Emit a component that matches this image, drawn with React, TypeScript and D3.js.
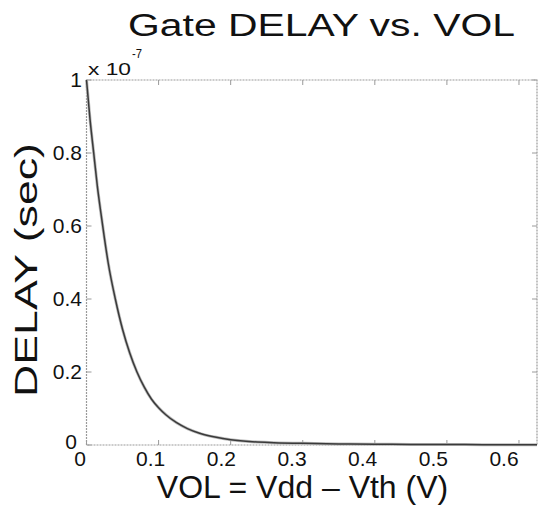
import React from "react";
import * as d3 from "d3";

// VOL (V) and gate delay (x 1e-7 s)
const volValues = [0, 0.005, 0.01, 0.015, 0.02, 0.025, 0.03, 0.04, 0.05, 0.06, 0.07, 0.08, 0.09, 0.1, 0.11, 0.125, 0.14, 0.157, 0.18, 0.2, 0.23, 0.26, 0.3, 0.35, 0.4, 0.45, 0.5, 0.55, 0.6, 0.625];
const delayValues = [1.0, 0.89, 0.8, 0.71, 0.635, 0.565, 0.5, 0.4, 0.317, 0.252, 0.2, 0.159, 0.126, 0.102, 0.083, 0.061, 0.045, 0.032, 0.021, 0.0146, 0.009, 0.0065, 0.0045, 0.003, 0.0022, 0.0017, 0.0013, 0.001, 0.0008, 0.0007];
const xTicks = [0, 0.1, 0.2, 0.3, 0.4, 0.5, 0.6];
const yTicks = [0, 0.2, 0.4, 0.6, 0.8, 1];

const W = 539;
const H = 508;
const left = 86.5, right = 537, top = 80, bottom = 445;
const font = "'Liberation Sans', Arial, Helvetica, sans-serif";

export default function App() {
  const x = d3.scaleLinear().domain([0, 0.625]).range([left, right]);
  const y = d3.scaleLinear().domain([0, 1]).range([bottom, top]);
  // the scan squeezes the tick labels slightly relative to the tick marks
  const xLabel = d3.scaleLinear().domain([0, 0.6]).range([80, 504]);

  const pts = volValues.map((v, i) => [v, delayValues[i]] as [number, number]);
  const line = d3
    .line<[number, number]>()
    .x((d) => x(d[0]))
    .y((d) => y(d[1]))
    .curve(d3.curveMonotoneX);

  const frame = "#9a9a9a";

  return (
    <svg width={W} height={H} style={{ position: "absolute", left: 0, top: 0, background: "#fff" }} fontFamily={font}>
      <rect x={0} y={0} width={W} height={H} fill="#fff" />
      {/* title */}
      <text x={321.5} y={36} fontSize={31} textAnchor="middle" textLength={387} lengthAdjust="spacingAndGlyphs" fill="#111">
        Gate DELAY vs. VOL
      </text>

      {/* frame */}
      <rect x={left} y={top} width={right - left} height={bottom - top} fill="none" stroke={frame} strokeWidth={1.2} strokeDasharray="2,1" />

      {/* x ticks */}
      {xTicks.map((t) => (
        <g key={"x" + t}>
          <line x1={x(t)} x2={x(t)} y1={bottom} y2={bottom - 5} stroke={frame} />
          <line x1={x(t)} x2={x(t)} y1={top} y2={top + 5} stroke={frame} />
          <text x={xLabel(t)} y={466} fontSize={21} textAnchor="middle" fill="#111">
            {t === 0 ? "0" : d3.format(".1f")(t)}
          </text>
        </g>
      ))}

      {/* y ticks */}
      {yTicks.map((t) => (
        <g key={"y" + t}>
          <line x1={left} x2={left + 5} y1={y(t)} y2={y(t)} stroke={frame} />
          <line x1={right} x2={right - 5} y1={y(t)} y2={y(t)} stroke={frame} />
          <text x={t === 0 ? 77 : 82} y={y(t) + (t === 0 ? 4 : 7)} fontSize={21} textAnchor="end" fill="#111">
            {t === 0 || t === 1 ? String(t) : d3.format(".1f")(t)}
          </text>
        </g>
      ))}

      {/* exponent marker */}
      <text x={88} y={75} fontSize={17} textLength={43} lengthAdjust="spacingAndGlyphs" fill="#111">x 10</text>
      <text x={132} y={58} fontSize={13} textLength={10} lengthAdjust="spacingAndGlyphs" fill="#111">-7</text>

      {/* curve */}
      <path d={line(pts) || ""} fill="none" stroke="#bbb" strokeWidth={3} />
      <path d={line(pts) || ""} fill="none" stroke="#3a3a3a" strokeWidth={1.5} />

      {/* axis labels */}
      <text x={302.5} y={498} fontSize={32} textAnchor="middle" fill="#111">
        VOL = Vdd – Vth (V)
      </text>
      <text transform={`translate(37,270) rotate(-90)`} fontSize={31} textAnchor="middle" textLength={254} lengthAdjust="spacingAndGlyphs" fill="#111">
        DELAY (sec)
      </text>
    </svg>
  );
}
